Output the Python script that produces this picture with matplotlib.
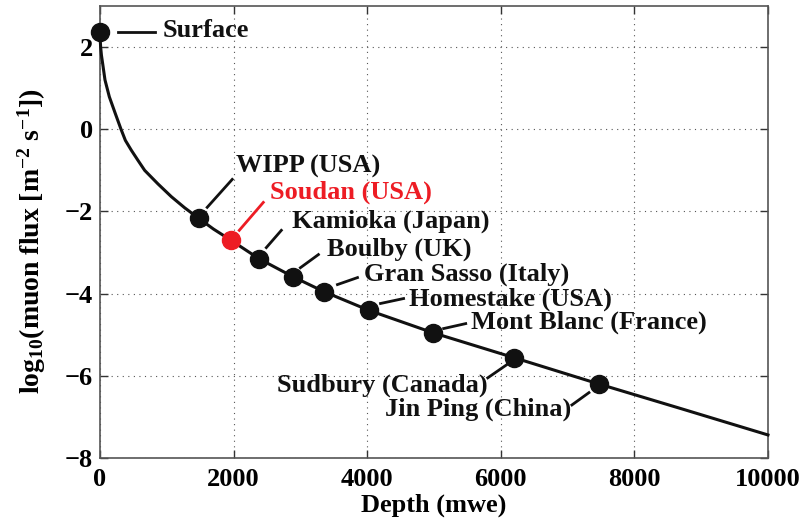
import matplotlib
matplotlib.use("Agg")
import matplotlib.pyplot as plt

plt.rcParams['font.family'] = ['Liberation Serif', 'DejaVu Serif']
plt.rcParams['font.weight'] = 'bold'
plt.rcParams['mathtext.fontset'] = 'custom'
plt.rcParams['mathtext.rm'] = 'Liberation Serif:bold'
plt.rcParams['mathtext.it'] = 'Liberation Serif:italic:bold'
plt.rcParams['mathtext.bf'] = 'Liberation Serif:bold'

# Curve (depth in mwe, log10 flux)
curve_depth = [0, 3, 10, 22, 40, 75, 140, 230, 315, 380, 469, 570, 669, 868, 1068,
               1267, 1480, 1700, 1960, 2380, 2890, 3350, 4030, 4980, 6200, 7470,
               8700, 10000]
curve_flux = [2.37, 2.2, 2.0, 1.8, 1.6, 1.2, 0.79, 0.38, 0.0, -0.27, -0.51, -0.76,
              -1.0, -1.33, -1.64, -1.91, -2.17, -2.43, -2.70, -3.15, -3.59, -3.95,
              -4.41, -4.95, -5.56, -6.20, -6.80, -7.44]

# Sites
site_names = ["Surface", "WIPP (USA)", "Soudan (USA)", "Kamioka (Japan)", "Boulby (UK)",
              "Gran Sasso (Italy)", "Homestake (USA)", "Mont Blanc (France)",
              "Sudbury (Canada)", "Jin Ping (China)"]
site_depth = [0, 1480, 1960, 2380, 2890, 3350, 4030, 4980, 6200, 7470]
site_flux = [2.37, -2.17, -2.70, -3.15, -3.59, -3.95, -4.41, -4.95, -5.56, -6.20]
site_colors = ["#111111", "#111111", "#ED1C24", "#111111", "#111111", "#111111",
               "#111111", "#111111", "#111111", "#111111"]

# leader line endpoints and label anchors (data coordinates)
leader_x0 = [270, 1605, 2085, 2490, 3000, 3555, 4200, 5145, 5805, 7065]
leader_y0 = [2.37, -1.90, -2.46, -2.88, -3.37, -3.78, -4.24, -4.85, -6.05, -6.71]
leader_x1 = [825, 1980, 2445, 2715, 3270, 3855, 4545, 5475, 6090, 7320]
leader_y1 = [2.37, -1.22, -1.78, -2.46, -3.05, -3.61, -4.12, -4.73, -5.73, -6.41]
label_x = [945, 2040, 2550, 2880, 3405, 3945, 4620, 5550, 5805, 7050]
label_y = [2.40, -0.90, -1.53, -2.24, -2.92, -3.53, -4.14, -4.70, -6.24, -6.82]
label_ha = ["left"] * 8 + ["right", "right"]

xticks = [0, 2000, 4000, 6000, 8000, 10000]
yticks = [-8, -6, -4, -2, 0, 2]

FS = 19

fig = plt.figure(figsize=(8.05, 5.27), dpi=100)
ax = fig.add_axes([0.1242, 0.131, 0.8298, 0.8576])

ax.plot(curve_depth, curve_flux, color="#111111", lw=2.2, zorder=3, clip_on=False,
        solid_joinstyle='round')
for i in range(len(site_names)):
    ax.plot(site_depth[i], site_flux[i], 'o', ms=13, color=site_colors[i],
            mec=site_colors[i], zorder=4, clip_on=False)
    ax.plot([leader_x0[i], leader_x1[i]], [leader_y0[i], leader_y1[i]],
            color=site_colors[i], lw=2.0, zorder=3)
    ax.text(label_x[i], label_y[i], site_names[i], ha=label_ha[i], va='center',
            fontsize=FS, fontweight='bold', color=site_colors[i])

ax.set_xlim(0, 10000)
ax.set_ylim(-8, 3)
ax.set_xticks(xticks)
ax.set_yticks(yticks)
ax.tick_params(direction='in', top=True, right=True, length=6, width=1,
               labelsize=FS, color="#333333")
ax.tick_params(axis='x', pad=7)
ax.tick_params(axis='y', pad=5)
for lab in ax.get_xticklabels() + ax.get_yticklabels():
    lab.set_fontweight('bold')
ax.grid(True, linestyle=(0, (1, 4)), color="#555555", lw=0.8)
for s in ax.spines.values():
    s.set_color("#555555")
    s.set_linewidth(1.2)

ax.set_xlabel("Depth (mwe)", fontsize=FS, fontweight='bold', labelpad=2)
ax.set_ylabel(r"log$_{10}$(muon flux [m$^{-2}$ s$^{-1}$])", fontsize=20,
              fontweight='bold')
ax.yaxis.set_label_coords(-0.078, 0.48)

fig.savefig("out.png", dpi=100)
